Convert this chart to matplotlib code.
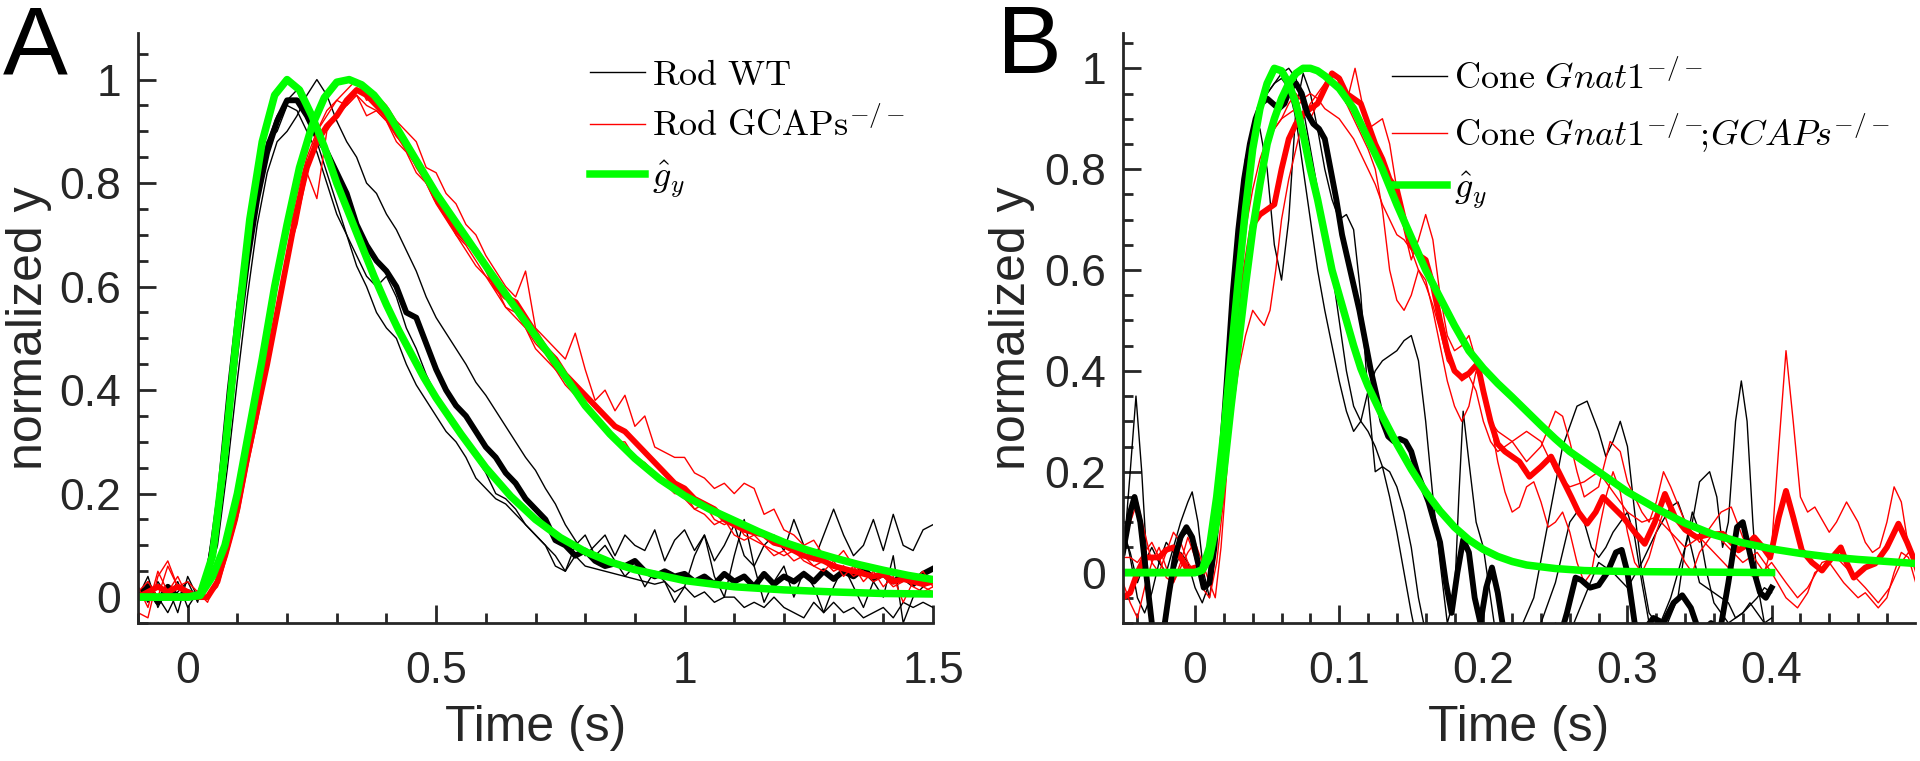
import matplotlib.pyplot as plt
import numpy as np
from matplotlib.ticker import MultipleLocator, FixedLocator

plt.rcParams['font.family'] = ['Liberation Sans', 'DejaVu Sans']
plt.rcParams['mathtext.fontset'] = 'cm'

# ---------------- panel A: rods, sampled every 20 ms from -0.1 to 1.5 s
t_rod = np.round(np.arange(-0.1, 1.5001, 0.02), 3)

rod_wt_mean = [0.0, 0.02, -0.01, 0.02, 0.0, 0.01, 0.0, 0.04, 0.15, 0.33,
               0.5, 0.65, 0.77, 0.86, 0.92, 0.96, 0.96, 0.93, 0.89, 0.86,
               0.82, 0.78, 0.72, 0.68, 0.65, 0.63, 0.6, 0.55, 0.54, 0.49,
               0.44, 0.4, 0.37, 0.35, 0.32, 0.29, 0.27, 0.24, 0.22, 0.19,
               0.17, 0.15, 0.11, 0.1, 0.08, 0.09, 0.07, 0.06, 0.065, 0.06,
               0.07, 0.05, 0.04, 0.05, 0.04, 0.045, 0.03, 0.04, 0.025, 0.045,
               0.03, 0.04, 0.02, 0.045, 0.025, 0.04, 0.03, 0.045, 0.03, 0.05,
               0.035, 0.05, 0.04, 0.055, 0.035, 0.045, 0.03, 0.04, 0.025, 0.045,
               0.055]
rod_wt_1 = [0.02, -0.01, 0.03, 0.0, 0.03, -0.02, 0.01, 0.03, 0.1, 0.25,
            0.42, 0.58, 0.72, 0.82, 0.88, 0.9, 0.93, 0.97, 1.0, 0.97,
            0.92, 0.88, 0.85, 0.8, 0.78, 0.74, 0.71, 0.67, 0.63, 0.58,
            0.54, 0.51, 0.48, 0.45, 0.415, 0.39, 0.36, 0.33, 0.3, 0.27,
            0.245, 0.21, 0.18, 0.14, 0.11, 0.08, 0.1, 0.12, 0.08, 0.12,
            0.1, 0.09, 0.13, 0.07, 0.11, 0.13, 0.09, 0.12, 0.07, 0.1,
            0.14, 0.08, 0.06, 0.1, 0.12, 0.09, 0.15, 0.1, 0.07, 0.12,
            0.17, 0.12, 0.08, 0.1, 0.15, 0.09, 0.16, 0.1, 0.09, 0.13,
            0.14]
rod_wt_2 = [-0.01, 0.03, 0.0, -0.03, 0.01, 0.03, -0.01, 0.06, 0.2, 0.4,
            0.57, 0.7, 0.8, 0.88, 0.93, 0.96, 0.98, 0.93, 0.88, 0.82,
            0.76, 0.7, 0.64, 0.6, 0.55, 0.52, 0.5, 0.45, 0.41, 0.38,
            0.35, 0.32, 0.3, 0.27, 0.23, 0.21, 0.19, 0.18, 0.16, 0.14,
            0.12, 0.1, 0.08, 0.05, 0.08, 0.06, 0.055, 0.05, 0.045, 0.04,
            0.035, 0.03, 0.025, 0.03, 0.01, 0.02, 0.0, 0.01, -0.01, 0.0,
            0.0, -0.02, -0.01, -0.02, 0.0, -0.02, -0.03, -0.04, -0.01, -0.03,
            -0.01, -0.03, -0.02, -0.04, -0.03, -0.02, -0.04, -0.01, -0.02, -0.01,
            -0.02]
rod_wt_3 = [0.0, 0.04, -0.02, 0.02, -0.03, 0.04, 0.0, 0.05, 0.18, 0.36,
            0.55, 0.7, 0.82, 0.88, 0.9, 0.95, 0.94, 0.9, 0.86, 0.8,
            0.74, 0.7, 0.66, 0.62, 0.6, 0.62, 0.58, 0.52, 0.48, 0.43,
            0.39, 0.36, 0.33, 0.3, 0.27, 0.24, 0.2, 0.19, 0.17, 0.14,
            0.12, 0.1, 0.06, 0.05, 0.1, 0.12, 0.08, 0.1, 0.07, 0.04,
            0.06, 0.02, 0.05, 0.03, -0.01, 0.02, 0.08, 0.12, 0.04, 0.0,
            0.08, 0.15, 0.06, -0.01, 0.03, 0.06, 0.0, 0.05, 0.02, -0.03,
            0.02, 0.06, 0.02, -0.02, 0.03, 0.0, 0.08, -0.05, 0.0, 0.02,
            0.03]
rod_gc_mean = [0.0, 0.01, 0.02, 0.01, 0.02, 0.01, 0.0, 0.0, 0.03, 0.1,
               0.17, 0.27, 0.36, 0.45, 0.55, 0.65, 0.75, 0.83, 0.88, 0.91,
               0.93, 0.96, 0.98, 0.97, 0.95, 0.93, 0.9, 0.87, 0.84, 0.81,
               0.77, 0.74, 0.71, 0.69, 0.67, 0.64, 0.6, 0.58, 0.57, 0.54,
               0.51, 0.48, 0.46, 0.43, 0.41, 0.39, 0.37, 0.35, 0.33, 0.32,
               0.3, 0.28, 0.26, 0.24, 0.22, 0.21, 0.19, 0.18, 0.17, 0.15,
               0.14, 0.13, 0.125, 0.12, 0.105, 0.1, 0.09, 0.08, 0.075, 0.07,
               0.06, 0.055, 0.05, 0.045, 0.04, 0.045, 0.03, 0.035, 0.03, 0.025,
               0.03]
rod_gc_1 = [0.02, -0.02, 0.05, 0.01, 0.04, 0.0, 0.01, -0.01, 0.04, 0.12,
            0.2, 0.3, 0.4, 0.5, 0.6, 0.7, 0.76, 0.82, 0.9, 0.94,
            0.96, 0.98, 1.0, 0.96, 0.97, 0.95, 0.92, 0.9, 0.88, 0.83,
            0.82, 0.78, 0.76, 0.72, 0.7, 0.66, 0.63, 0.6, 0.58, 0.63,
            0.52, 0.5, 0.48, 0.46, 0.51, 0.44, 0.38, 0.4, 0.36, 0.39,
            0.33, 0.35, 0.29, 0.28, 0.27, 0.27, 0.24, 0.23, 0.21, 0.22,
            0.2, 0.22, 0.21, 0.16, 0.17, 0.13, 0.12, 0.1, 0.11, 0.08,
            0.07, 0.09, 0.06, 0.05, 0.04, 0.05, 0.03, 0.04, 0.02, 0.01,
            0.02]
rod_gc_2 = [0.01, 0.03, 0.0, 0.06, 0.02, 0.03, 0.01, 0.0, 0.02, 0.08,
            0.15, 0.25, 0.34, 0.44, 0.56, 0.66, 0.72, 0.82, 0.77, 0.9,
            0.93, 0.95, 0.97, 0.95, 0.94, 0.92, 0.88, 0.86, 0.82, 0.8,
            0.76, 0.73, 0.7, 0.67, 0.64, 0.62, 0.6, 0.56, 0.55, 0.52,
            0.49, 0.47, 0.44, 0.42, 0.4, 0.37, 0.35, 0.33, 0.31, 0.28,
            0.27, 0.26, 0.24, 0.22, 0.2, 0.2, 0.17, 0.18, 0.15, 0.14,
            0.15, 0.12, 0.11, 0.1, 0.09, 0.08, 0.09, 0.07, 0.06, 0.07,
            0.05, 0.06, 0.04, 0.05, 0.03, 0.04, 0.02, 0.03, 0.04, 0.02,
            0.01]
rod_gc_3 = [-0.03, -0.04, 0.04, 0.07, 0.02, 0.01, 0.0, 0.0, 0.03, 0.09,
            0.17, 0.26, 0.38, 0.48, 0.6, 0.7, 0.78, 0.85, 0.9, 0.93,
            0.96, 0.95, 0.97, 0.93, 0.94, 0.92, 0.89, 0.87, 0.83, 0.8,
            0.77, 0.74, 0.7, 0.68, 0.65, 0.62, 0.59, 0.56, 0.54, 0.52,
            0.48, 0.46, 0.44, 0.41, 0.39, 0.37, 0.34, 0.32, 0.3, 0.3,
            0.27, 0.25, 0.24, 0.22, 0.21, 0.19, 0.17, 0.16, 0.14, 0.15,
            0.12, 0.11, 0.12, 0.1, 0.08, 0.09, 0.07, 0.08, 0.06, 0.05,
            0.07, 0.04, 0.06, 0.03, 0.05, 0.02, 0.04, -0.01, 0.03, 0.05,
            0.02]

fit_rod_wt_t = [-0.1, 0.0, 0.025, 0.05, 0.075, 0.1, 0.125, 0.15, 0.175, 0.2,
                0.225, 0.25, 0.275, 0.3, 0.325, 0.35, 0.375, 0.4, 0.425, 0.45,
                0.475, 0.5, 0.525, 0.55, 0.6, 0.65, 0.7, 0.75, 0.8, 0.85,
                0.9, 1.0, 1.1, 1.2, 1.3, 1.4, 1.5]
fit_rod_wt = [0, 0, 0.005, 0.08, 0.28, 0.52, 0.73, 0.88, 0.97, 1.0,
              0.98, 0.93, 0.87, 0.8, 0.74, 0.68, 0.62, 0.565, 0.515, 0.47,
              0.425, 0.385, 0.35, 0.315, 0.25, 0.195, 0.15, 0.115, 0.088, 0.068,
              0.053, 0.032, 0.02, 0.014, 0.01, 0.007, 0.006]
fit_rod_gc_t = [-0.1, 0.0, 0.025, 0.05, 0.075, 0.1, 0.125, 0.15, 0.175, 0.2,
                0.225, 0.25, 0.275, 0.3, 0.325, 0.35, 0.375, 0.4, 0.425, 0.45,
                0.475, 0.5, 0.55, 0.6, 0.65, 0.7, 0.75, 0.8, 0.85, 0.9,
                0.95, 1.0, 1.05, 1.1, 1.15, 1.2, 1.25, 1.3, 1.35, 1.4,
                1.45, 1.5]
fit_rod_gc = [0, 0, 0.003, 0.04, 0.1, 0.2, 0.33, 0.46, 0.6, 0.72,
              0.83, 0.91, 0.965, 0.995, 1.0, 0.99, 0.97, 0.94, 0.9, 0.86,
              0.82, 0.78, 0.71, 0.64, 0.572, 0.505, 0.44, 0.37, 0.315, 0.268,
              0.228, 0.196, 0.17, 0.148, 0.126, 0.106, 0.09, 0.076, 0.063, 0.052,
              0.042, 0.034]

# ---------------- panel B: cones, (time s, normalized y)
cone_wt_mean = np.array([
    (-0.05, 0.04), (-0.045, 0.12), (-0.042, 0.15), (-0.038, 0.1), (-0.034, 0.0),
    (-0.03, -0.1), (-0.026, -0.16), (-0.022, -0.12), (-0.018, -0.04), (-0.014, 0.03),
    (-0.01, 0.07), (-0.006, 0.09), (-0.002, 0.07), (0.002, 0.02), (0.006, -0.03),
    (0.01, -0.02), (0.014, 0.08), (0.018, 0.22), (0.022, 0.38), (0.026, 0.55),
    (0.03, 0.68), (0.034, 0.78), (0.038, 0.85), (0.042, 0.9), (0.046, 0.93),
    (0.05, 0.94), (0.054, 0.93), (0.058, 0.92), (0.062, 0.93), (0.066, 0.96),
    (0.07, 0.97), (0.074, 0.95), (0.078, 0.91), (0.082, 0.89), (0.086, 0.88),
    (0.09, 0.86), (0.094, 0.8), (0.098, 0.74), (0.102, 0.67), (0.106, 0.62),
    (0.11, 0.57), (0.114, 0.52), (0.118, 0.46), (0.122, 0.4), (0.126, 0.35),
    (0.13, 0.3), (0.134, 0.27), (0.138, 0.26), (0.142, 0.265), (0.146, 0.26),
    (0.15, 0.24), (0.154, 0.2), (0.158, 0.17), (0.162, 0.14), (0.166, 0.1),
    (0.17, 0.06), (0.174, -0.02), (0.178, -0.08), (0.182, 0.0), (0.186, 0.065),
    (0.19, 0.04), (0.194, -0.05), (0.198, -0.1), (0.202, -0.03), (0.206, 0.01),
    (0.21, -0.04), (0.216, -0.15), (0.225, -0.2), (0.24, -0.22), (0.25, -0.16),
    (0.258, -0.08), (0.264, -0.01), (0.268, -0.015), (0.274, -0.03), (0.28, -0.025),
    (0.286, 0.0), (0.292, 0.04), (0.296, 0.045), (0.3, 0.0), (0.305, -0.1),
    (0.31, -0.12), (0.318, -0.09), (0.325, -0.1), (0.332, -0.06), (0.338, -0.045),
    (0.344, -0.07), (0.35, -0.12), (0.358, -0.1), (0.364, -0.12), (0.37, -0.02),
    (0.376, 0.09), (0.38, 0.1), (0.384, 0.05), (0.388, 0.0), (0.392, -0.04),
    (0.396, -0.05), (0.4, -0.03)])
cone_wt_1 = np.array([
    (-0.05, 0.02), (-0.045, 0.2), (-0.041, 0.35), (-0.037, 0.2), (-0.033, 0.0),
    (-0.029, -0.1), (-0.025, -0.15), (-0.02, -0.08), (-0.015, 0.0), (-0.01, 0.04),
    (-0.005, 0.02), (0.0, -0.03), (0.005, -0.06), (0.01, -0.02), (0.015, 0.12),
    (0.02, 0.32), (0.025, 0.52), (0.03, 0.7), (0.035, 0.82), (0.04, 0.88),
    (0.045, 0.92), (0.05, 0.95), (0.055, 0.97), (0.06, 0.99), (0.065, 1.0),
    (0.07, 0.98), (0.075, 0.92), (0.08, 0.84), (0.085, 0.76), (0.09, 0.68),
    (0.095, 0.6), (0.1, 0.5), (0.105, 0.4), (0.11, 0.33), (0.115, 0.3),
    (0.12, 0.28), (0.125, 0.25), (0.13, 0.21), (0.135, 0.15), (0.14, 0.08),
    (0.145, 0.0), (0.15, -0.08), (0.155, -0.15), (0.165, -0.25), (0.18, -0.3),
    (0.2, -0.25), (0.22, -0.15), (0.235, -0.05), (0.245, 0.1), (0.255, 0.25),
    (0.265, 0.33), (0.272, 0.34), (0.28, 0.28), (0.285, 0.23), (0.29, 0.26),
    (0.295, 0.3), (0.3, 0.25), (0.305, 0.12), (0.31, 0.0), (0.315, -0.08),
    (0.325, -0.12), (0.335, -0.05), (0.34, 0.05), (0.345, 0.12), (0.35, 0.08),
    (0.355, 0.0), (0.36, -0.06), (0.37, -0.1), (0.38, -0.08), (0.39, -0.05),
    (0.395, -0.03), (0.4, -0.04)])
cone_wt_2 = np.array([
    (-0.05, 0.08), (-0.045, 0.04), (-0.04, -0.02), (-0.035, 0.02), (-0.03, 0.05),
    (-0.025, 0.02), (-0.02, 0.0), (-0.015, 0.05), (-0.01, 0.1), (-0.005, 0.14),
    (-0.002, 0.16), (0.002, 0.1), (0.006, 0.0), (0.01, -0.05), (0.015, 0.05),
    (0.02, 0.25), (0.025, 0.45), (0.03, 0.62), (0.035, 0.76), (0.04, 0.86),
    (0.045, 0.92), (0.05, 0.95), (0.055, 0.97), (0.06, 0.98), (0.065, 0.96),
    (0.07, 0.9), (0.075, 0.8), (0.08, 0.7), (0.085, 0.6), (0.09, 0.52),
    (0.095, 0.45), (0.1, 0.38), (0.105, 0.32), (0.11, 0.28), (0.115, 0.3),
    (0.12, 0.36), (0.125, 0.4), (0.13, 0.42), (0.14, 0.44), (0.145, 0.46),
    (0.15, 0.47), (0.155, 0.42), (0.16, 0.3), (0.165, 0.15), (0.17, 0.02),
    (0.175, -0.1), (0.18, -0.05), (0.183, 0.15), (0.186, 0.32), (0.19, 0.22),
    (0.195, 0.1), (0.2, 0.05), (0.205, -0.05), (0.21, -0.15), (0.22, -0.25),
    (0.23, -0.2), (0.24, -0.1), (0.25, -0.02), (0.26, 0.1), (0.265, 0.12),
    (0.27, 0.1), (0.275, 0.05), (0.28, 0.03), (0.285, 0.05), (0.29, 0.08),
    (0.3, 0.12), (0.305, 0.07), (0.31, -0.02), (0.315, -0.1), (0.32, -0.12),
    (0.33, -0.05), (0.34, 0.05), (0.345, 0.1), (0.35, 0.18), (0.357, 0.2),
    (0.362, 0.15), (0.366, 0.05), (0.37, 0.1), (0.375, 0.3), (0.379, 0.38),
    (0.383, 0.3), (0.387, 0.1), (0.39, -0.02), (0.395, -0.1), (0.4, -0.12)])
cone_wt_3 = np.array([
    (-0.05, 0.1), (-0.045, 0.03), (-0.04, -0.05), (-0.035, -0.08), (-0.03, -0.04),
    (-0.025, 0.02), (-0.02, 0.06), (-0.015, 0.04), (-0.01, 0.07), (-0.005, 0.08),
    (0.0, 0.04), (0.005, 0.0), (0.01, 0.02), (0.015, 0.1), (0.02, 0.3),
    (0.025, 0.5), (0.03, 0.68), (0.035, 0.8), (0.04, 0.86), (0.045, 0.88),
    (0.05, 0.8), (0.055, 0.65), (0.06, 0.58), (0.065, 0.7), (0.07, 0.92),
    (0.075, 0.99), (0.08, 0.95), (0.085, 0.88), (0.09, 0.8), (0.095, 0.74),
    (0.1, 0.7), (0.105, 0.71), (0.11, 0.68), (0.115, 0.55), (0.12, 0.35),
    (0.125, 0.2), (0.13, 0.21), (0.135, 0.2), (0.14, 0.17), (0.145, 0.12),
    (0.15, 0.05), (0.155, -0.05), (0.16, -0.12), (0.17, -0.2), (0.185, -0.15),
    (0.2, -0.1), (0.21, -0.12), (0.22, -0.2), (0.24, -0.15), (0.25, -0.1),
    (0.26, -0.12), (0.27, -0.05), (0.28, 0.02), (0.29, 0.0), (0.3, -0.03),
    (0.31, 0.02), (0.32, 0.08), (0.33, 0.13), (0.335, 0.14), (0.34, 0.1),
    (0.345, 0.04), (0.35, -0.02), (0.36, -0.04), (0.37, -0.06), (0.375, -0.09),
    (0.38, -0.08), (0.385, -0.06), (0.39, -0.08), (0.395, -0.1), (0.4, -0.09)])
cone_gc_mean = np.array([
    (-0.05, -0.05), (-0.045, -0.04), (-0.04, 0.0), (-0.035, 0.03), (-0.03, 0.03),
    (-0.025, 0.03), (-0.02, 0.045), (-0.015, 0.05), (-0.01, 0.03), (-0.005, 0.005),
    (0.0, 0.01), (0.005, 0.0), (0.01, 0.04), (0.015, 0.12), (0.02, 0.27),
    (0.025, 0.4), (0.03, 0.5), (0.035, 0.6), (0.04, 0.69), (0.045, 0.71),
    (0.05, 0.72), (0.055, 0.73), (0.06, 0.8), (0.065, 0.86), (0.07, 0.89),
    (0.075, 0.91), (0.08, 0.92), (0.085, 0.93), (0.09, 0.96), (0.095, 0.99),
    (0.1, 0.98), (0.105, 0.95), (0.11, 0.94), (0.115, 0.93), (0.12, 0.89),
    (0.125, 0.85), (0.13, 0.82), (0.135, 0.78), (0.14, 0.76), (0.145, 0.7),
    (0.15, 0.65), (0.155, 0.63), (0.16, 0.62), (0.165, 0.57), (0.17, 0.5),
    (0.175, 0.44), (0.18, 0.4), (0.185, 0.387), (0.19, 0.395), (0.196, 0.414),
    (0.2, 0.36), (0.205, 0.3), (0.21, 0.255), (0.215, 0.24), (0.22, 0.23),
    (0.225, 0.22), (0.232, 0.19), (0.24, 0.21), (0.247, 0.23), (0.254, 0.19),
    (0.261, 0.15), (0.266, 0.12), (0.272, 0.097), (0.278, 0.12), (0.283, 0.15),
    (0.29, 0.13), (0.297, 0.11), (0.305, 0.08), (0.312, 0.057), (0.319, 0.1),
    (0.326, 0.156), (0.333, 0.11), (0.34, 0.085), (0.348, 0.07), (0.356, 0.075),
    (0.366, 0.077), (0.372, 0.06), (0.377, 0.044), (0.383, 0.055), (0.388, 0.07),
    (0.394, 0.05), (0.399, 0.03), (0.405, 0.11), (0.41, 0.162), (0.415, 0.11),
    (0.421, 0.044), (0.428, 0.02), (0.435, 0.004), (0.442, 0.03), (0.448, 0.05),
    (0.452, 0.02), (0.457, -0.01), (0.465, 0.01), (0.472, 0.018), (0.48, 0.05),
    (0.488, 0.097), (0.494, 0.06), (0.5, 0.018)])
cone_gc_1 = np.array([
    (-0.05, 0.03), (-0.045, 0.1), (-0.04, 0.14), (-0.035, 0.08), (-0.03, 0.02),
    (-0.025, 0.0), (-0.02, 0.04), (-0.015, 0.08), (-0.01, 0.06), (-0.005, 0.02),
    (0.0, 0.0), (0.005, 0.01), (0.01, 0.05), (0.015, 0.15), (0.02, 0.3),
    (0.025, 0.45), (0.03, 0.58), (0.035, 0.68), (0.04, 0.76), (0.045, 0.82),
    (0.05, 0.86), (0.055, 0.88), (0.06, 0.9), (0.065, 0.93), (0.07, 0.95),
    (0.075, 0.93), (0.08, 0.9), (0.085, 0.93), (0.09, 0.96), (0.095, 0.98),
    (0.1, 0.96), (0.105, 0.93), (0.111, 1.0), (0.116, 0.93), (0.12, 0.88),
    (0.125, 0.89), (0.13, 0.9), (0.135, 0.85), (0.14, 0.76), (0.145, 0.68),
    (0.15, 0.62), (0.155, 0.66), (0.16, 0.71), (0.165, 0.66), (0.17, 0.55),
    (0.175, 0.47), (0.18, 0.44), (0.185, 0.45), (0.19, 0.47), (0.195, 0.42),
    (0.2, 0.36), (0.205, 0.3), (0.21, 0.28), (0.215, 0.27), (0.22, 0.26),
    (0.23, 0.22), (0.24, 0.25), (0.25, 0.32), (0.255, 0.31), (0.26, 0.26),
    (0.265, 0.2), (0.27, 0.15), (0.28, 0.17), (0.288, 0.26), (0.295, 0.24),
    (0.3, 0.18), (0.31, 0.12), (0.315, 0.1), (0.32, 0.14), (0.325, 0.2),
    (0.33, 0.17), (0.34, 0.1), (0.35, 0.06), (0.36, 0.1), (0.365, 0.12),
    (0.372, 0.13), (0.38, 0.07), (0.39, 0.02), (0.395, 0.0), (0.4, 0.05),
    (0.405, 0.25), (0.41, 0.44), (0.415, 0.3), (0.42, 0.15), (0.425, 0.12),
    (0.43, 0.13), (0.44, 0.08), (0.445, 0.1), (0.452, 0.14), (0.46, 0.1),
    (0.465, 0.06), (0.47, 0.04), (0.475, 0.05), (0.48, 0.1), (0.485, 0.17),
    (0.49, 0.14), (0.495, 0.05), (0.5, 0.0)])
cone_gc_2 = np.array([
    (-0.05, -0.02), (-0.045, -0.06), (-0.04, -0.09), (-0.035, -0.03), (-0.03, 0.02),
    (-0.025, 0.05), (-0.02, 0.01), (-0.015, -0.02), (-0.01, 0.02), (-0.005, 0.07),
    (0.0, 0.03), (0.005, -0.03), (0.01, -0.05), (0.015, 0.02), (0.02, 0.15),
    (0.025, 0.3), (0.03, 0.4), (0.035, 0.47), (0.04, 0.52), (0.045, 0.5),
    (0.048, 0.49), (0.052, 0.52), (0.056, 0.6), (0.06, 0.7), (0.065, 0.78),
    (0.07, 0.84), (0.075, 0.9), (0.08, 0.93), (0.085, 0.95), (0.09, 0.97),
    (0.095, 0.98), (0.1, 0.96), (0.105, 0.93), (0.11, 0.9), (0.115, 0.87),
    (0.12, 0.84), (0.125, 0.8), (0.13, 0.72), (0.135, 0.6), (0.14, 0.54),
    (0.145, 0.52), (0.15, 0.55), (0.155, 0.6), (0.16, 0.58), (0.165, 0.52),
    (0.17, 0.45), (0.175, 0.38), (0.18, 0.33), (0.185, 0.3), (0.19, 0.33),
    (0.195, 0.4), (0.2, 0.37), (0.205, 0.3), (0.21, 0.22), (0.215, 0.16),
    (0.22, 0.12), (0.225, 0.13), (0.23, 0.17), (0.235, 0.18), (0.24, 0.14),
    (0.245, 0.09), (0.25, 0.1), (0.255, 0.12), (0.26, 0.08), (0.265, 0.02),
    (0.27, -0.02), (0.275, 0.0), (0.28, 0.08), (0.285, 0.15), (0.29, 0.2),
    (0.295, 0.16), (0.3, 0.08), (0.305, 0.02), (0.31, 0.0), (0.315, 0.03),
    (0.32, 0.08), (0.325, 0.12), (0.33, 0.08), (0.34, 0.02), (0.345, 0.0),
    (0.35, 0.04), (0.36, 0.08), (0.37, 0.05), (0.38, 0.02), (0.39, 0.04),
    (0.4, 0.0), (0.41, -0.05), (0.418, -0.07), (0.425, -0.04), (0.43, 0.0),
    (0.44, 0.02), (0.45, -0.02), (0.46, -0.05), (0.465, -0.04), (0.474, -0.07),
    (0.48, -0.05), (0.485, 0.0), (0.49, 0.04), (0.495, 0.03), (0.5, -0.02)])
cone_gc_3 = np.array([
    (-0.05, 0.03), (-0.045, 0.03), (-0.04, 0.02), (-0.035, 0.04), (-0.03, 0.06),
    (-0.025, 0.03), (-0.02, -0.01), (-0.015, -0.02), (-0.01, 0.01), (-0.005, 0.04),
    (0.0, 0.06), (0.005, 0.02), (0.01, -0.02), (0.014, -0.05), (0.018, 0.05),
    (0.022, 0.2), (0.026, 0.35), (0.03, 0.48), (0.035, 0.6), (0.04, 0.7),
    (0.045, 0.78), (0.05, 0.84), (0.055, 0.88), (0.06, 0.9), (0.065, 0.91),
    (0.07, 0.92), (0.075, 0.94), (0.08, 0.95), (0.085, 0.94), (0.09, 0.92),
    (0.095, 0.91), (0.1, 0.9), (0.105, 0.88), (0.11, 0.86), (0.115, 0.83),
    (0.12, 0.8), (0.125, 0.77), (0.13, 0.73), (0.135, 0.7), (0.14, 0.67),
    (0.145, 0.66), (0.15, 0.64), (0.155, 0.6), (0.16, 0.57), (0.165, 0.53),
    (0.17, 0.48), (0.175, 0.42), (0.18, 0.4), (0.185, 0.38), (0.19, 0.39),
    (0.195, 0.36), (0.2, 0.3), (0.205, 0.26), (0.21, 0.24), (0.22, 0.26),
    (0.23, 0.28), (0.24, 0.26), (0.25, 0.2), (0.26, 0.17), (0.27, 0.18),
    (0.28, 0.2), (0.29, 0.16), (0.3, 0.12), (0.31, 0.1), (0.32, 0.11),
    (0.33, 0.08), (0.34, 0.05), (0.35, 0.07), (0.36, 0.04), (0.37, 0.01),
    (0.38, 0.0), (0.39, -0.01), (0.4, 0.02), (0.41, -0.02), (0.418, -0.05),
    (0.425, -0.03), (0.435, 0.02), (0.445, 0.03), (0.455, 0.0), (0.465, -0.03),
    (0.474, -0.06), (0.482, -0.03), (0.49, 0.02), (0.495, 0.04), (0.5, 0.02)])

fit_cone_wt_t = [-0.05, 0.0, 0.005, 0.01, 0.015, 0.02, 0.025, 0.03, 0.035, 0.04,
                 0.045, 0.05, 0.055, 0.06, 0.065, 0.07, 0.075, 0.08, 0.085, 0.09,
                 0.095, 0.1, 0.105, 0.11, 0.115, 0.12, 0.13, 0.14, 0.15, 0.16,
                 0.17, 0.18, 0.19, 0.2, 0.21, 0.22, 0.23, 0.25, 0.27, 0.3,
                 0.35, 0.4]
fit_cone_wt = [0, 0, 0.005, 0.05, 0.15, 0.28, 0.43, 0.58, 0.72, 0.84,
               0.92, 0.97, 1.0, 0.995, 0.97, 0.93, 0.87, 0.8, 0.74, 0.67,
               0.6, 0.55, 0.5, 0.45, 0.405, 0.37, 0.31, 0.255, 0.205, 0.16,
               0.122, 0.09, 0.065, 0.046, 0.032, 0.022, 0.015, 0.008, 0.004, 0.002,
               0.001, 0.0]
fit_cone_gc_t = [-0.05, 0.0, 0.005, 0.01, 0.015, 0.02, 0.025, 0.03, 0.035, 0.04,
                 0.045, 0.05, 0.055, 0.06, 0.065, 0.07, 0.075, 0.08, 0.085, 0.09,
                 0.1, 0.11, 0.12, 0.13, 0.14, 0.15, 0.16, 0.17, 0.18, 0.19,
                 0.2, 0.21, 0.22, 0.23, 0.24, 0.25, 0.26, 0.28, 0.3, 0.32,
                 0.34, 0.36, 0.38, 0.4, 0.42, 0.44, 0.46, 0.48, 0.5]
fit_cone_gc = [0, 0, 0.005, 0.03, 0.1, 0.2, 0.33, 0.45, 0.57, 0.68,
               0.77, 0.85, 0.9, 0.94, 0.97, 0.99, 1.0, 1.0, 0.995, 0.985,
               0.96, 0.92, 0.86, 0.8, 0.73, 0.665, 0.6, 0.545, 0.49, 0.44,
               0.405, 0.375, 0.348, 0.32, 0.292, 0.265, 0.24, 0.2, 0.16, 0.127,
               0.098, 0.075, 0.059, 0.047, 0.038, 0.031, 0.026, 0.022, 0.018]

AX = '#262626'
GREEN = '#00ff00'
THIN, THICK, FITW = 1.0, 4.2, 5.4

fig = plt.figure(figsize=(19.2, 7.61), dpi=100)
W, H = 1920, 761
axA = fig.add_axes([138 / W, 1 - 623 / H, (933 - 138) / W, (623 - 33) / H])
axB = fig.add_axes([1123 / W, 1 - 623 / H, (1915 - 1123) / W, (623 - 33) / H])

# panel A
for tr in (rod_wt_1, rod_wt_2, rod_wt_3):
    hA_wt, = axA.plot(t_rod, tr, color='k', lw=THIN)
axA.plot(t_rod, rod_wt_mean, color='k', lw=THICK)
for tr in (rod_gc_1, rod_gc_2, rod_gc_3):
    hA_gc, = axA.plot(t_rod, tr, color='r', lw=THIN)
axA.plot(t_rod, rod_gc_mean, color='r', lw=THICK)
hA_fit, = axA.plot(fit_rod_wt_t, fit_rod_wt, color=GREEN, lw=FITW)
axA.plot(fit_rod_gc_t, fit_rod_gc, color=GREEN, lw=FITW)

# panel B
for tr in (cone_wt_1, cone_wt_2, cone_wt_3):
    hB_wt, = axB.plot(tr[:, 0], tr[:, 1], color='k', lw=THIN)
for tr in (cone_gc_1, cone_gc_2, cone_gc_3):
    hB_gc, = axB.plot(tr[:, 0], tr[:, 1], color='r', lw=THIN)
axB.plot(cone_gc_mean[:, 0], cone_gc_mean[:, 1], color='r', lw=THICK)
axB.plot(cone_wt_mean[:, 0], cone_wt_mean[:, 1], color='k', lw=THICK)
hB_fit, = axB.plot(fit_cone_wt_t, fit_cone_wt, color=GREEN, lw=FITW)
axB.plot(fit_cone_gc_t, fit_cone_gc, color=GREEN, lw=FITW)

axA.set_xlim(-0.1, 1.5)
axA.set_ylim(-0.05, 1.09)
axA.xaxis.set_major_locator(FixedLocator([0, 0.5, 1, 1.5]))
axA.xaxis.set_minor_locator(MultipleLocator(0.1))
axB.set_xlim(-0.05, 0.4995)
axB.set_ylim(-0.1, 1.07)
axB.xaxis.set_major_locator(FixedLocator([0, 0.1, 0.2, 0.3, 0.4]))
axB.xaxis.set_minor_locator(MultipleLocator(0.02))

for ax in (axA, axB):
    ax.yaxis.set_major_locator(FixedLocator([0, 0.2, 0.4, 0.6, 0.8, 1]))
    ax.yaxis.set_minor_locator(MultipleLocator(0.05))
    ax.xaxis.set_major_formatter(plt.FuncFormatter(lambda v, p: f'{v:g}'))
    ax.yaxis.set_major_formatter(plt.FuncFormatter(lambda v, p: f'{v:g}'))
    for s in ('top', 'right'):
        ax.spines[s].set_visible(False)
    for s in ('left', 'bottom'):
        ax.spines[s].set_linewidth(2)
        ax.spines[s].set_color(AX)
    ax.tick_params(which='both', direction='in', color=AX, width=2)
    ax.tick_params(which='major', length=13, labelsize=32, labelcolor=AX)
    ax.tick_params(which='minor', length=7)
    ax.tick_params(axis='x', which='major', pad=20)
    ax.tick_params(axis='y', which='major', pad=12)
    ax.set_xlabel('Time (s)', fontsize=36, color=AX, va='center')
    ax.set_ylabel('normalized y', fontsize=36, color=AX, va='center')
    ax.xaxis.set_label_coords(0.5, -0.178)

axA.yaxis.set_label_coords(-0.137, 0.5)
axB.yaxis.set_label_coords(-0.140, 0.5)

leg_kw = dict(loc='upper left', frameon=False, fontsize=26, handlelength=1.52,
              handletextpad=0.19, borderpad=0, borderaxespad=0, labelspacing=0.4)
axA.legend([hA_wt, hA_gc, hA_fit],
           [r'$\mathrm{Rod\ WT}$', r'$\mathrm{Rod\ GCAPs}^{-/-}$', r'$\hat{g}_y$'],
           bbox_to_anchor=((590 - 138) / 795, (623 - 58) / 590), **leg_kw)
axB.legend([hB_wt, hB_gc, hB_fit],
           [r'$\mathrm{Cone}\ Gnat1^{-/-}$',
            r'$\mathrm{Cone}\ Gnat1^{-/-}\!\!\mathrm{;}\!GCAPs^{-/-}$', r'$\hat{g}_y$'],
           bbox_to_anchor=((1392 - 1123) / 792, (623 - 60) / 590), **leg_kw)

fig.text(3 / W, 1 - 3 / H, 'A', fontsize=70, va='top', ha='left')
fig.text(997 / W, 1 - 3 / H, 'B', fontsize=70, va='top', ha='left')

fig.savefig('out.png', dpi=100)
